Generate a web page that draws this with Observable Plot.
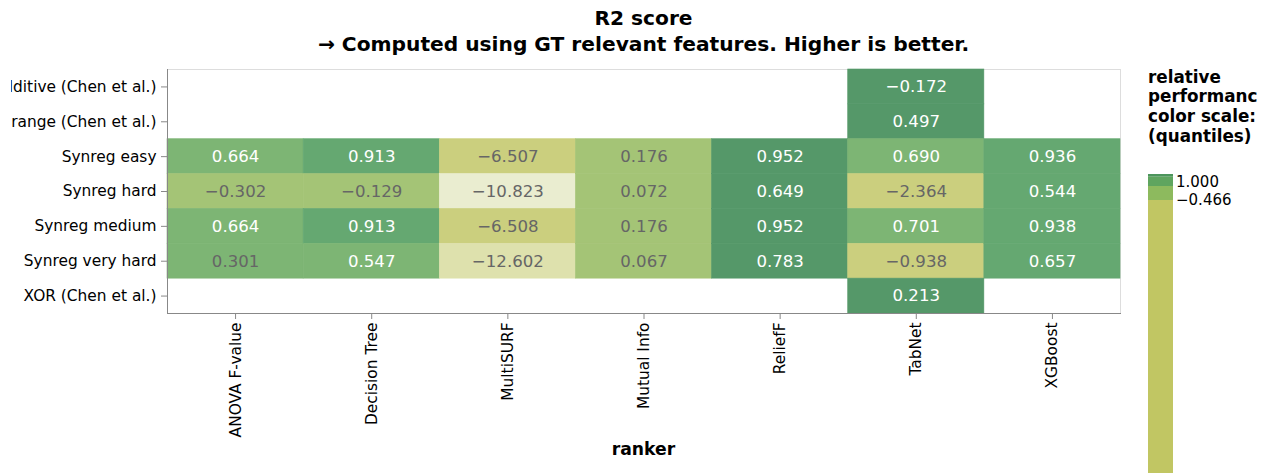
<!DOCTYPE html>
<html>
<head>
<meta charset="utf-8">
<script src="https://cdn.jsdelivr.net/npm/d3@7"></script>
<script src="https://cdn.jsdelivr.net/npm/@observablehq/plot@0.6"></script>
<style>
  html, body { margin: 0; padding: 0; background: #fff; overflow: hidden; }
  #chart { position: absolute; left: 11px; top: 0; width: 1260px; height: 473px; overflow: hidden; }
  svg { font-family: "DejaVu Sans", sans-serif; }
</style>
</head>
<body>
<div id="chart"></div>
<script>
// ---- data ----
const rankers = ["ANOVA F-value", "Decision Tree", "MultiSURF", "Mutual Info", "ReliefF", "TabNet", "XGBoost"];
const datasets = ["Nonlinear additive (Chen et al.)", "Orange (Chen et al.)", "Synreg easy", "Synreg hard", "Synreg medium", "Synreg very hard", "XOR (Chen et al.)"];
// values per ranker, in dataset order (null = not evaluated)
const anovaF      = [null, null, 0.664, -0.302, 0.664, 0.301, null];
const decisionTree= [null, null, 0.913, -0.129, 0.913, 0.547, null];
const multiSURF   = [null, null, -6.507, -10.823, -6.508, -12.602, null];
const mutualInfo  = [null, null, 0.176, 0.072, 0.176, 0.067, null];
const reliefF     = [null, null, 0.952, 0.649, 0.952, 0.783, null];
const tabNet      = [-0.172, 0.497, 0.690, -2.364, 0.701, -0.938, 0.213];
const xgBoost     = [null, null, 0.936, 0.544, 0.938, 0.657, null];
const legendLabels = ["1.000", "\u22120.466"];

const series = [anovaF, decisionTree, multiSURF, mutualInfo, reliefF, tabNet, xgBoost];
const data = [];
rankers.forEach((r, i) => series[i].forEach((v, j) => {
  if (v != null) data.push({ranker: r, dataset: datasets[j], value: v});
}));
// relative performance = value / best value of the dataset row
const rowMax = new Map(datasets.map(ds => [ds, d3.max(data.filter(d => d.dataset === ds), d => d.value)]));
data.forEach(d => d.rel = d.value / rowMax.get(d.dataset));

const fmt = d3.format(".3f");
const palette = ["#eaedd0", "#dee1ad", "#cbcf7e", "#a4c476", "#7db574", "#65a871", "#559869"];

const W = 1260, H = 473;
const plot = Plot.plot({
  width: W,
  height: H,
  marginLeft: 156,
  marginRight: 151,
  marginTop: 69,
  marginBottom: 160,
  style: {fontFamily: "DejaVu Sans, sans-serif", fontSize: "15.4px", color: "#000", background: "#fff", overflow: "hidden"},
  x: {domain: rankers, padding: 0, round: false, label: null},
  y: {domain: datasets, padding: 0, round: false, label: null},
  color: {type: "threshold", domain: [-16.5, -10, -1, 0.3, 0.8, 0.99], range: palette},
  marks: [
    Plot.frame({stroke: "#ddd"}),
    Plot.cell(data, {x: "ranker", y: "dataset", fill: "rel", stroke: "rel", strokeWidth: 0.6, inset: 0}),
    Plot.text(data.filter(d => d.rel > 0.5), {x: "ranker", y: "dataset", text: d => fmt(d.value), fill: "white", fontSize: 16.6}),
    Plot.text(data.filter(d => d.rel <= 0.5), {x: "ranker", y: "dataset", text: d => fmt(d.value), fill: "#666", fontSize: 16.6}),
    Plot.frame({anchor: "left", stroke: "#888"}),
    Plot.frame({anchor: "bottom", stroke: "#888"}),
    Plot.axisY({tickSize: 6, tickPadding: 5, stroke: "#888", fill: "#000", fontSize: 15.4, label: null}),
    Plot.axisX({tickSize: 6, tickPadding: 3, tickRotate: -90, stroke: "#888", fill: "#000", fontSize: 15.4, label: null})
  ]
});
document.getElementById("chart").appendChild(plot);

// ---- titles, axis title and legend (page x shifted by the 11px container offset) ----
const dx = -11;
const svg = d3.select(plot);
const g = svg.append("g").attr("font-family", "DejaVu Sans, sans-serif").attr("text-anchor", "start");
g.append("text").attr("x", 643.5 + dx).attr("y", 25).attr("text-anchor", "middle")
  .attr("font-weight", "bold").attr("font-size", 20.2).attr("fill", "#000").text("R2 score");
g.append("text").attr("x", 643.5 + dx).attr("y", 51).attr("text-anchor", "middle")
  .attr("font-weight", "bold").attr("font-size", 20.2).attr("fill", "#000")
  .text("\u2192 Computed using GT relevant features. Higher is better.");
g.append("text").attr("x", 643.5 + dx).attr("y", 455).attr("text-anchor", "middle")
  .attr("font-weight", "bold").attr("font-size", 17.2).attr("fill", "#000").text("ranker");

const clip = svg.append("defs").append("clipPath").attr("id", "legclip");
clip.append("rect").attr("x", 1140 + dx).attr("y", 0).attr("width", 117).attr("height", H);
const lt = g.append("g").attr("clip-path", "url(#legclip)");
const titleLines = ["relative", "performance", "color scale:", "(quantiles)"];
titleLines.forEach((t, i) => {
  lt.append("text").attr("x", 1148 + dx).attr("y", 82.5 + i * 19.8).attr("text-anchor", "start")
    .attr("font-weight", "bold").attr("font-size", 16.8).attr("fill", "#000").text(t);
});
const segs = [[174, 176.7, "#4c955c"], [176.7, 186, "#5fa55f"], [186, 200, "#8dba5e"], [200, 480, "#c1c663"]];
segs.forEach(([y0, y1, c]) => g.append("rect").attr("x", 1148 + dx).attr("y", y0).attr("width", 25).attr("height", y1 - y0).attr("fill", c));
legendLabels.forEach((t, i) => {
  g.append("text").attr("x", 1176 + dx).attr("y", 187 + i * 17.5).attr("text-anchor", "start")
    .attr("font-size", 15).attr("fill", "#000").text(t);
});
</script>
</body>
</html>
